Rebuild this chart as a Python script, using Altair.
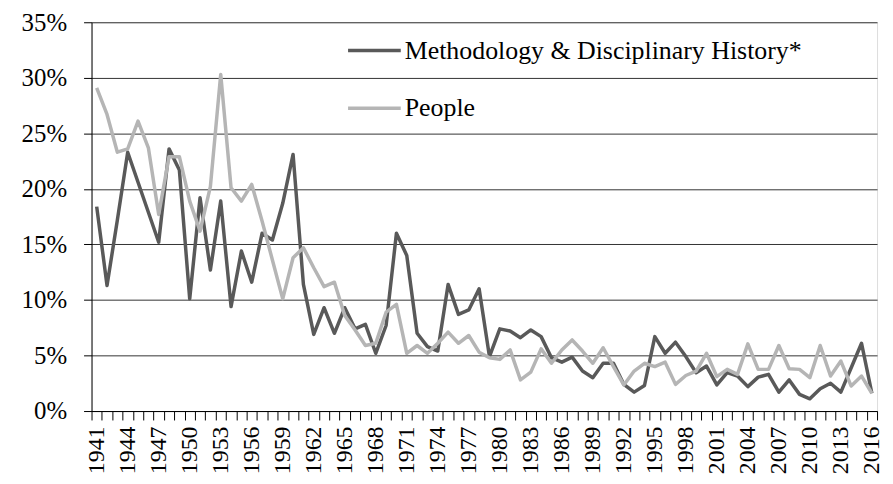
import altair as alt
import pandas as pd

years = list(range(1941, 2017))

methodology = [
    18.4, 11.3, 17.2, 23.3, 20.6, 17.9, 15.2, 23.6, 21.7, 10.1,   # 1941-1950
    19.2, 12.7, 18.9, 9.4, 14.4, 11.6, 16.0, 15.4, 18.7, 23.1,    # 1951-1960
    11.4, 6.9, 9.3, 7.0, 9.3, 7.4, 7.8, 5.2, 7.7, 16.0,           # 1961-1970
    14.0, 7.0, 5.8, 5.4, 11.4, 8.7, 9.1, 11.0, 4.9, 7.4,          # 1971-1980
    7.2, 6.6, 7.3, 6.7, 4.8, 4.4, 4.85, 3.6, 3.0, 4.3,            # 1981-1990
    4.3, 2.4, 1.7, 2.3, 6.7, 5.2, 6.2, 4.9, 3.45, 4.05,           # 1991-2000
    2.35, 3.45, 3.15, 2.2, 3.05, 3.3, 1.7, 2.8, 1.5, 1.1,         # 2001-2010
    2.0, 2.5, 1.7, 3.9, 6.1, 1.6,                                 # 2011-2016
]

people = [
    29.1, 26.7, 23.3, 23.6, 26.1, 23.7, 17.7, 22.9, 22.9, 18.9,   # 1941-1950
    16.2, 20.2, 30.3, 20.1, 18.9, 20.4, 17.1, 13.6, 10.1, 13.8,   # 1951-1960
    14.7, 12.9, 11.2, 11.6, 8.6, 7.3, 5.9, 6.1, 8.9, 9.6,         # 1961-1970
    5.2, 5.9, 5.2, 6.1, 7.1, 6.1, 6.8, 5.3, 4.8, 4.65,            # 1971-1980
    5.5, 2.8, 3.5, 5.6, 4.3, 5.5, 6.4, 5.4, 4.3, 5.7,             # 1981-1990
    4.0, 2.35, 3.6, 4.3, 4.0, 4.4, 2.4, 3.2, 3.6, 5.2,            # 1991-2000
    3.1, 3.75, 3.3, 6.05, 3.75, 3.75, 5.9, 3.8, 3.75, 3.0,        # 2001-2010
    5.9, 3.15, 4.5, 2.25, 3.15, 1.6,                              # 2011-2016
]

series_names = ["Methodology & Disciplinary History*", "People"]
series_colors = ["#595959", "#B5B5B5"]
y_tick_values = [0, 0.05, 0.10, 0.15, 0.20, 0.25, 0.30, 0.35]

rows = []
for name, vals in zip(series_names, [methodology, people]):
    for yr, v in zip(years, vals):
        rows.append({"Year": yr, "Share": v / 100.0, "Series": name})
df = pd.DataFrame(rows)

FONT = "Liberation Serif"
W, H = 790, 391
half_band = W / len(years) / 2.0
x_tick_values = [y - 0.5 for y in years] + [years[-1] + 0.5]
label_expr = ("(datum.value + 0.5 - 1941) % 3 == 0 ? "
              "toString(datum.value + 0.5) : ''")

chart = alt.Chart(df).mark_line(strokeWidth=3.5, strokeJoin="round").encode(
    x=alt.X(
        "Year:Q",
        scale=alt.Scale(domain=[years[0] - 0.5, years[-1] + 0.5], nice=False, zero=False),
        axis=alt.Axis(
            values=x_tick_values,
            labelExpr=label_expr,
            labelAngle=270,
            labelOffset=half_band,
            labelFont=FONT,
            labelFontSize=24,
            labelColor="black",
            labelPadding=6,
            labelOverlap=False,
            labelBound=False,
            labelFlush=False,
            tickSize=9,
            tickColor="black",
            tickWidth=1,
            domainColor="black",
            domainWidth=1,
            grid=False,
            title=None,
        ),
    ),
    y=alt.Y(
        "Share:Q",
        scale=alt.Scale(domain=[0, 0.35], nice=False),
        axis=alt.Axis(
            values=y_tick_values,
            format=".0%",
            labelFont=FONT,
            labelFontSize=25,
            labelColor="black",
            labelPadding=17,
            labelFlush=False,
            tickSize=8,
            tickColor="black",
            tickWidth=1,
            domainColor="black",
            domainWidth=1,
            grid=True,
            gridColor="#333333",
            gridWidth=1,
            title=None,
        ),
    ),
    color=alt.Color(
        "Series:N",
        sort=series_names,
        scale=alt.Scale(domain=series_names, range=series_colors),
        legend=alt.Legend(
            orient="none",
            legendX=256,
            legendY=0,
            title=None,
            symbolType="stroke",
            symbolSize=2809,
            symbolStrokeWidth=3.5,
            labelFont=FONT,
            labelFontSize=26,
            labelColor="black",
            labelOffset=2,
            labelLimit=0,
            rowPadding=16,
            padding=0,
        ),
    ),
).properties(
    width=W,
    height=H,
    autosize=alt.AutoSizeParams(type="none"),
    padding={"left": 84, "top": 13, "right": 8, "bottom": 64},
).configure_view(stroke=None).configure(background="white")

chart.save("out.html", embed_options={"renderer": "svg", "actions": False})
